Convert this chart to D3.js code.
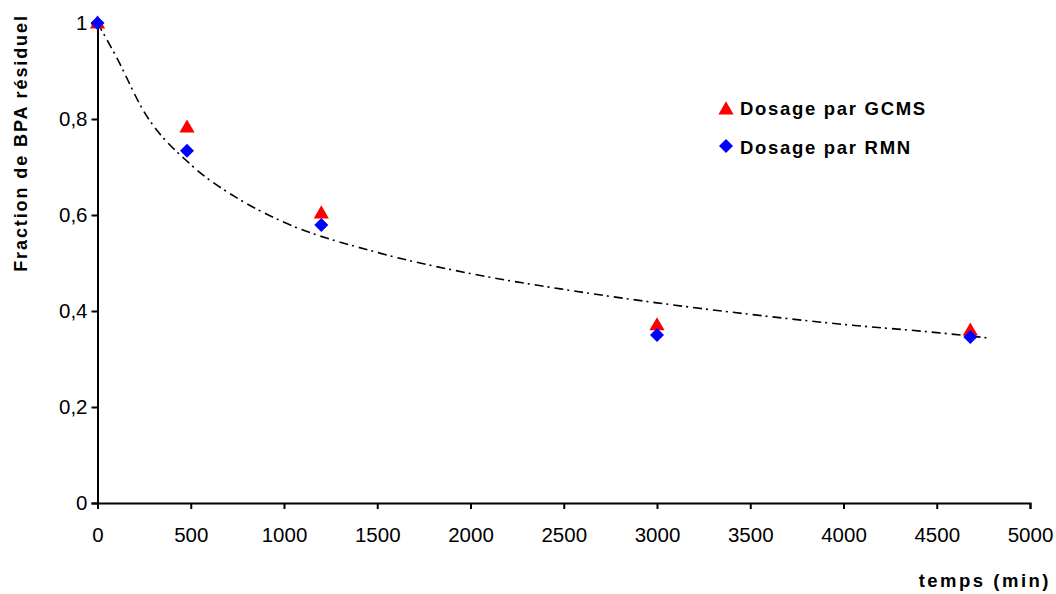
<!DOCTYPE html>
<html><head><meta charset="utf-8">
<script src="https://cdn.jsdelivr.net/npm/d3@7"></script>
<style>body{margin:0;background:#fff}svg{display:block}text{font-family:"Liberation Sans",Arial,sans-serif}</style>
</head><body><svg id="c" width="1056" height="594"></svg>
<script>
const times = [0, 480, 1200, 3000, 4680];
const gcms = [1.0, 0.783, 0.604, 0.371, 0.360];
const rmn = [1.0, 0.734, 0.579, 0.350, 0.346];
const trendT = [0, 100, 250, 500, 750, 1000, 1500, 2000, 2500, 3000, 3500, 4000, 4500, 4770];
const trendY = [1.0, 0.93, 0.815, 0.705, 0.635, 0.585, 0.522, 0.478, 0.445, 0.417, 0.393, 0.372, 0.355, 0.344];
const xTicks = [0, 500, 1000, 1500, 2000, 2500, 3000, 3500, 4000, 4500, 5000];
const yTicks = [0, 0.2, 0.4, 0.6, 0.8, 1];
const seriesNames = ["Dosage par GCMS", "Dosage par RMN"];

const svg = d3.select("#c");
const x = d3.scaleLinear().domain([0, 5000]).range([97.5, 1030]);
const y = d3.scaleLinear().domain([0, 1]).range([503, 23]);
const fmt = d => d3.format("")(d).replace(".", ",");

const xa = svg.append("g").attr("transform", `translate(0,${y(0)})`)
  .call(d3.axisBottom(x).tickValues(xTicks).tickSize(6).tickPadding(18).tickFormat(d => d));
const ya = svg.append("g").attr("transform", `translate(${x(0)},0)`)
  .call(d3.axisLeft(y).tickValues(yTicks).tickSize(6).tickPadding(4).tickFormat(fmt));
[xa, ya].forEach(a => {
  a.select(".domain").attr("stroke", "#000").attr("stroke-width", 2);
  a.selectAll(".tick line").attr("stroke", "#000").attr("stroke-width", 2);
  a.selectAll(".tick text").attr("fill", "#000").style("font-size", "20.5px").style("font-family", '"Liberation Sans",Arial,sans-serif');
});

// trend line
const tdata = trendT.map((t, i) => [t, trendY[i]]);
svg.append("path").datum(tdata)
  .attr("d", d3.line().x(d => x(d[0])).y(d => y(d[1])).curve(d3.curveMonotoneX))
  .attr("fill", "none").attr("stroke", "#000").attr("stroke-width", 1.6)
  .attr("stroke-dasharray", "9,4,2,5");

const tri = d3.symbol().type(d3.symbolTriangle).size(100);
const dia = d3.symbol().type(d3.symbolSquare).size(98);

svg.append("g").selectAll("path").data(times.map((t, i) => [t, gcms[i]])).join("path")
  .attr("d", tri).attr("fill", "#ff0000")
  .attr("transform", d => `translate(${x(d[0])},${y(d[1]) + 1})`);
svg.append("g").selectAll("path").data(times.map((t, i) => [t, rmn[i]])).join("path")
  .attr("d", dia).attr("fill", "#0000ff")
  .attr("transform", d => `translate(${x(d[0])},${y(d[1])}) rotate(45)`);

// legend
const lg = svg.append("g");
lg.append("path").attr("d", tri).attr("fill", "#ff0000").attr("transform", "translate(726,110)");
lg.append("path").attr("d", dia).attr("fill", "#0000ff").attr("transform", "translate(726,146) rotate(45)");
lg.append("text").attr("x", 740).attr("y", 115).text(seriesNames[0])
  .style("font-size", "18.5px").style("font-weight", "bold").style("letter-spacing", "1.7px");
lg.append("text").attr("x", 740).attr("y", 154).text(seriesNames[1])
  .style("font-size", "18.5px").style("font-weight", "bold").style("letter-spacing", "1.7px");

// axis titles
svg.append("text").attr("x", 1051).attr("y", 587).attr("text-anchor", "end")
  .style("font-size", "18.5px").style("font-weight", "bold").style("letter-spacing", "2.5px").text("temps (min)");
svg.append("text").attr("transform", "translate(27,143) rotate(-90)").attr("text-anchor", "middle")
  .style("font-size", "18px").style("font-weight", "bold").style("letter-spacing", "1.9px").text("Fraction de BPA résiduel");
</script></body></html>
